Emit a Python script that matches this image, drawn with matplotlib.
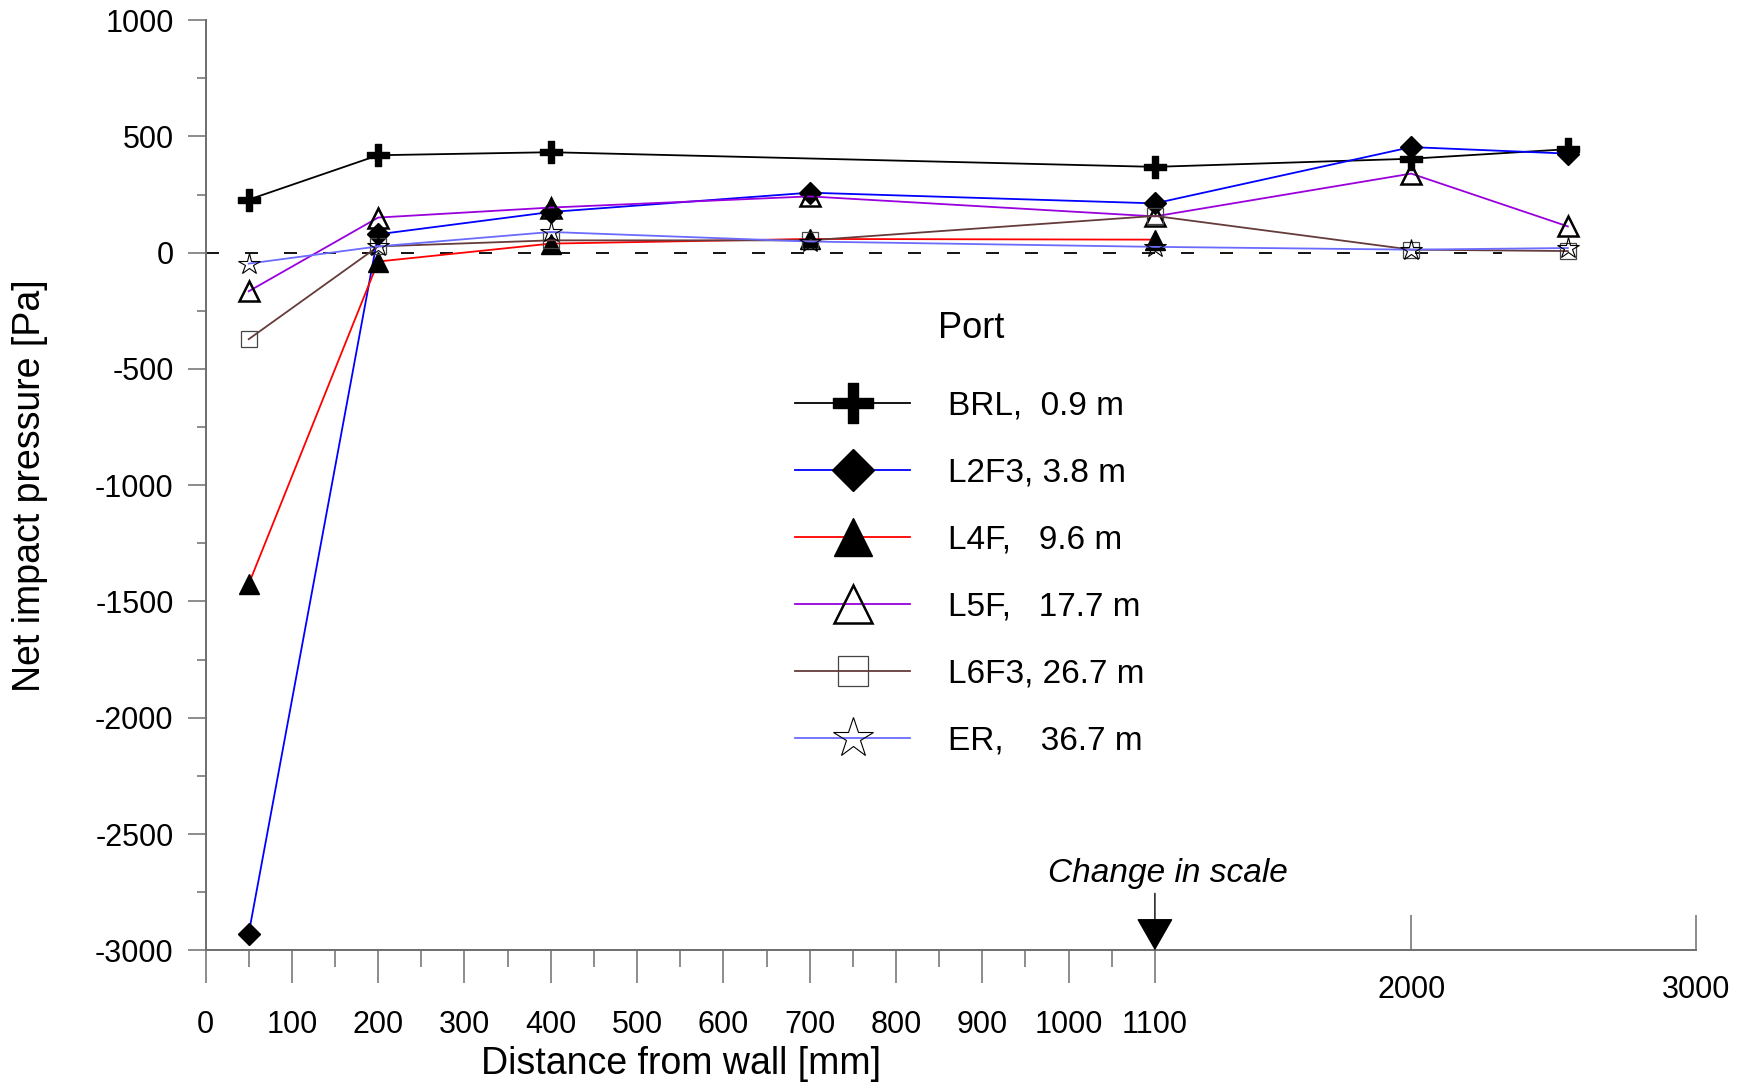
import numpy as np
import matplotlib
matplotlib.use("Agg")
import matplotlib.pyplot as plt
from matplotlib.path import Path

plt.rcParams['font.family'] = ['Liberation Sans', 'DejaVu Sans']
plt.rcParams['axes.unicode_minus'] = False

# distance from wall [mm]
dist_all = [50, 200, 400, 700, 1100, 2000, 2550]
dist_brl = [50, 200, 400, 1100, 2000, 2550]
dist_l4f = [50, 200, 400, 700, 1100]

# net impact pressure [Pa]
brl = [228, 419, 432, 369, 404, 445]
l2f3 = [-2928, 79, 175, 258, 212, 454, 426]
l4f = [-1425, -38, 39, 59, 56]
l5f = [-166, 151, 194, 242, 156, 340, 113]
l6f3 = [-372, 27, 53, 53, 158, 13, 7]
er = [-47, 27, 89, 48, 25, 13, 20]

labels = ["BRL,  0.9 m", "L2F3, 3.8 m", "L4F,   9.6 m",
          "L5F,   17.7 m", "L6F3, 26.7 m", "ER,    36.7 m"]

x_major = list(range(0, 1200, 100))
x_minor = list(range(50, 1100, 100))
x_far = [2000, 3000]

BREAK = 1100
RATIO = 0.33


def fwd(x):
    x = np.asarray(x, dtype=float)
    return np.where(x <= BREAK, x, BREAK + (x - BREAK) * RATIO)


def inv(t):
    t = np.asarray(t, dtype=float)
    return np.where(t <= BREAK, t, BREAK + (t - BREAK) / RATIO)


# filled plus with thinner arms than matplotlib's 'P'
a = 0.26
plus_path = Path([(-a, -1), (a, -1), (a, -a), (1, -a), (1, a), (a, a), (a, 1),
                  (-a, 1), (-a, a), (-1, a), (-1, -a), (-a, -a), (-a, -1)],
                 closed=True)

fig = plt.figure(figsize=(17.51, 10.82), dpi=100)
ax = fig.add_axes([0.1174, 0.1217, 0.8512, 0.8597])
ax.set_xscale('function', functions=(fwd, inv))

axis_grey = '#6e6e6e'

ax.plot([0, 2320], [0, 0], color='black', lw=1.3, dashes=(7.2, 14.4), zorder=1)

lw = 1.3
ax.plot(dist_brl, brl, color='black', lw=lw, marker=plus_path, ms=15.5,
        mfc='black', mec='black', label=labels[0], zorder=3)
ax.plot(dist_all, l2f3, color='#0000ff', lw=lw, marker='D', ms=11.5,
        mfc='black', mec='black', label=labels[1], zorder=3)
ax.plot(dist_l4f, l4f, color='#ff0000', lw=lw, marker='^', ms=14.5,
        mfc='black', mec='black', label=labels[2], zorder=3)
ax.plot(dist_all, l5f, color='#9900dd', lw=lw, marker='^', ms=14.5,
        mfc='none', mec='black', mew=1.8, label=labels[3], zorder=3)
ax.plot(dist_all, l6f3, color='#663b3b', lw=lw, marker='s', ms=12,
        mfc='none', mec='#444444', mew=0.9, label=labels[4], zorder=3)
ax.plot(dist_all, er, color='#6b6bff', lw=lw, marker='*', ms=16,
        mfc='none', mec='black', mew=0.8, label=labels[5], zorder=3)

ax.set_xlim(0, 3000)
ax.set_ylim(-3000, 1000)

for s in ['top', 'right']:
    ax.spines[s].set_visible(False)
for s in ['left', 'bottom']:
    ax.spines[s].set_color(axis_grey)
    ax.spines[s].set_linewidth(1.4)

ax.set_xticks(x_major)
ax.set_xticklabels([str(v) for v in x_major])
ax.set_xticks(x_minor, minor=True)
ax.set_yticks(np.arange(-3000, 1001, 500))
ax.set_yticks(np.arange(-3000, 1001, 250), minor=True)
ax.tick_params(axis='x', which='major', direction='out', length=24, width=1.1,
               color=axis_grey, pad=19, labelsize=22)
ax.tick_params(axis='x', which='minor', direction='out', length=12, width=1.1,
               color=axis_grey)
ax.tick_params(axis='y', which='major', direction='out', length=13, width=1.1,
               color=axis_grey, pad=10, labelsize=22)
ax.tick_params(axis='y', which='minor', direction='out', length=6.5, width=1.1,
               color=axis_grey)

# far ticks past the change in scale point inwards
ax2 = ax.twiny()
ax2.set_xscale('function', functions=(fwd, inv))
ax2.set_xlim(0, 3000)
ax2.xaxis.set_ticks_position('bottom')
for s in ax2.spines.values():
    s.set_visible(False)
ax2.set_xticks(x_far)
ax2.set_xticklabels([str(v) for v in x_far])
ax2.tick_params(axis='x', direction='in', length=25, width=1.1, color=axis_grey,
                pad=18, labelsize=22)
ax2.xaxis.set_minor_locator(plt.NullLocator())

ax.set_xlabel("Distance from wall [mm]", fontsize=27)
ax.xaxis.set_label_coords(0.3187, -0.1025)
ax.set_ylabel("Net impact pressure [Pa]", fontsize=27)
ax.yaxis.set_label_coords(-0.106, 0.5)

ax.annotate("", xy=(1100, -3000), xytext=(0, 41), textcoords='offset points',
            arrowprops=dict(arrowstyle='-|>,head_length=2.1,head_width=1.2',
                            mutation_scale=10, color='black', lw=1.0,
                            shrinkA=0, shrinkB=0))
ax.annotate("Change in scale", xy=(1100, -3000), xytext=(9.6, 55.5),
            textcoords='offset points', ha='center', va='center',
            fontsize=24, fontstyle='italic')

ax.text(0.5139, 0.6686, "Port", transform=ax.transAxes, ha='center',
        va='center', fontsize=26)
leg = ax.legend(loc='upper left', bbox_to_anchor=(0.3955, 0.6019),
                frameon=False, fontsize=24,
                markerscale=1.85, handlelength=3.45, handletextpad=1.15,
                labelspacing=1.083, borderpad=0, borderaxespad=0)

fig.savefig("out.png", dpi=100)
